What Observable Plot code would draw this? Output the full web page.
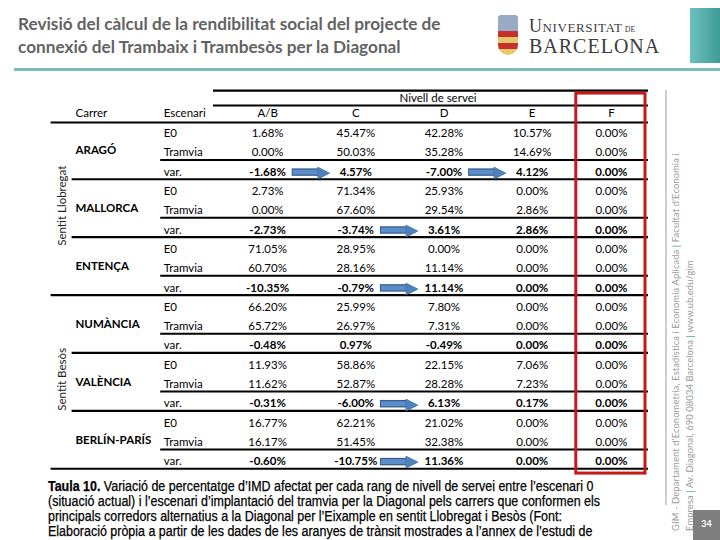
<!DOCTYPE html>
<html><head><meta charset="utf-8">
<script src="https://cdn.jsdelivr.net/npm/d3@7"></script>
<script src="https://cdn.jsdelivr.net/npm/@observablehq/plot@0.6"></script>
<style>
html,body{margin:0;padding:0;background:#fff;}
body{width:720px;height:540px;overflow:hidden;position:relative;font-family:Lato,sans-serif;}
#header{position:relative;height:80px;}
#title{position:absolute;left:18px;top:12px;font-family:Lato,sans-serif;font-weight:700;font-size:17.2px;line-height:23px;color:#636363;white-space:nowrap;}
#rule{position:absolute;left:14px;right:0;top:68px;height:3px;background:#7dbdbb;}
#crest{position:absolute;left:498px;top:15px;width:20px;height:40px;border-radius:3px 3px 10px 10px;
  background:linear-gradient(#9aa9c4 0 40%, #c8302c 40% 55%, #e8c86a 55% 70%, #c8302c 70% 85%, #e8c86a 85%);}
#ub1{position:absolute;left:529px;top:18px;font-family:"Liberation Serif",serif;font-size:18px;line-height:17px;color:#3c3c3c;font-variant:small-caps;letter-spacing:0.6px;}
#ub1 small{font-size:8px;letter-spacing:0;}
#ub2{position:absolute;left:529px;top:37px;font-family:"Liberation Serif",serif;font-size:20px;line-height:19px;color:#3c3c3c;letter-spacing:1px;}
#bldg{position:absolute;left:690px;top:8px;width:30px;height:55px;background:linear-gradient(90deg,#6cc0bb,#3f9c98);}
#chart{position:relative;height:397px;}
#caption{font-family:"Liberation Sans",Arial,sans-serif;font-size:14px;line-height:15px;color:#000;margin-left:48px;padding-top:2px;white-space:nowrap;
  transform:scaleX(0.89);transform-origin:0 0;-webkit-text-stroke:0.25px #000;}
#side{position:absolute;left:669px;top:531px;width:440px;height:30px;transform-origin:0 0;transform:rotate(-90deg);
  font-family:Lato,sans-serif;font-size:9.4px;line-height:13.5px;letter-spacing:0.1px;color:#9a9a9a;white-space:nowrap;}
#side b{color:#4bacc6;font-weight:normal;}
#vline{position:absolute;left:665px;top:90px;width:2px;height:415px;background:#cfcfcf;}
#page{position:absolute;left:693px;top:510px;width:27px;height:30px;background:#7f7f7f;color:#fff;font-family:Lato,sans-serif;font-weight:700;font-size:9px;text-align:center;line-height:28px;}
</style></head>
<body>
<div id="header">
  <div id="title">Revisió del càlcul de la rendibilitat social del projecte de<br>connexió del Trambaix i Trambesòs per la Diagonal</div>
  <div id="crest"></div>
  <div id="ub1">Universitat<small> DE</small></div>
  <div id="ub2">BARCELONA</div>
  <div id="bldg"></div>
  <div id="rule"></div>
</div>
<div id="chart"></div>
<div id="caption"><b>Taula 10.</b> Variació de percentatge d’IMD afectat per cada rang de nivell de servei entre l’escenari 0<br>(situació actual) i l’escenari d’implantació del tramvia per la Diagonal pels carrers que conformen els<br>principals corredors alternatius a la Diagonal per l’Eixample en sentit Llobregat i Besòs (Font:<br>Elaboració pròpia a partir de les dades de les aranyes de trànsit mostrades a l’annex de l’estudi de<br>trànsit).</div>
<div id="vline"></div>
<div id="side">GIM - Departament d’Econometria, Estadística i Economia Aplicada <b>|</b> Facultat d’Economia i<br>Empresa <b>|</b> Av. Diagonal, 690 08034 Barcelona <b>|</b> www.ub.edu/gim</div>
<div id="page">34</div>
<script>
// ---------- data ----------
const streets = ["ARAGÓ","MALLORCA","ENTENÇA","NUMÀNCIA","VALÈNCIA","BERLÍN-PARÍS"];
const scenarios = ["E0","Tramvia","var."];
const levels = ["A/B","C","D","E","F"];
const textColumns = ["Carrer","Escenari"];
const groupLabel = "Nivell de servei";
const e0Values = [
  [1.68,45.47,42.28,10.57,0.00],
  [2.73,71.34,25.93,0.00,0.00],
  [71.05,28.95,0.00,0.00,0.00],
  [66.20,25.99,7.80,0.00,0.00],
  [11.93,58.86,22.15,7.06,0.00],
  [16.77,62.21,21.02,0.00,0.00]];
const tramviaValues = [
  [0.00,50.03,35.28,14.69,0.00],
  [0.00,67.60,29.54,2.86,0.00],
  [60.70,28.16,11.14,0.00,0.00],
  [65.72,26.97,7.31,0.00,0.00],
  [11.62,52.87,28.28,7.23,0.00],
  [16.17,51.45,32.38,0.00,0.00]];
const varValues = [
  [-1.68,4.57,-7.00,4.12,0.00],
  [-2.73,-3.74,3.61,2.86,0.00],
  [-10.35,-0.79,11.14,0.00,0.00],
  [-0.48,0.97,-0.49,0.00,0.00],
  [-0.31,-6.00,6.13,0.17,0.00],
  [-0.60,-10.75,11.36,0.00,0.00]];
const sideLabels = ["Sentit Llobregat","Sentit Besòs"];
const sideStreets = [["ARAGÓ","MALLORCA","ENTENÇA"],["NUMÀNCIA","VALÈNCIA","BERLÍN-PARÍS"]];
const arrowStreets = ["ARAGÓ","ARAGÓ","MALLORCA","ENTENÇA","VALÈNCIA","BERLÍN-PARÍS"];
const arrowFrom = ["A/B","D","C","C","C","C"];
const arrowTo = ["C","E","D","D","D","D"];
const highlightLevel = "F";

// ---------- layout (styles / sizes) ----------
const W = 720, H = 397;
const XR = [46.6, 664];
const step = (XR[1] - XR[0]) / (textColumns.length + levels.length);
const lead = 28.4;              // left indent of text columns
const fs = 11.5;
const hlShift = -9;             // nudge of the highlighted column's text
const L = {topLine: -2.22, groupText: -1.8, groupLine: -1.45, headText: -1.04, headLine: -0.57, below: 0.37,
           boxTop: -2.07, boxBottomPad: 0.62};

// ---------- derived tables ----------
const allValues = [e0Values, tramviaValues, varValues];
const rowOf = (g, s) => g * 3 + s;
const cells = [];
streets.forEach((st, g) => scenarios.forEach((sc, s) => levels.forEach((lv, k) =>
  cells.push({street: st, scenario: sc, level: lv, value: allValues[s][g][k], row: rowOf(g, s)}))));
const scenRows = [];
streets.forEach((st, g) => scenarios.forEach((sc, s) => scenRows.push({label: sc, row: rowOf(g, s)})));
const streetRows = streets.map((st, g) => ({label: st, row: rowOf(g, 1)}));
const headers = [...textColumns, ...levels].map(c => ({col: c}));
const lastRow = rowOf(streets.length - 1, 2);
const sides = sideLabels.map((lab, i) => ({label: lab,
  row: d3.mean(sideStreets[i].flatMap(st => scenarios.map((_, s) => rowOf(streets.indexOf(st), s))))}));
const innerLines = streets.map((st, g) => ({y: rowOf(g, 1) + L.below}));
const groupEnds = streets.map((st, g) => ({y: rowOf(g, 2) + L.below,
  full: sideStreets.some(a => a[a.length - 1] === st)}));
const arrows = arrowStreets.map((st, i) => ({from: arrowFrom[i], to: arrowTo[i], row: rowOf(streets.indexOf(st), 2)}));
const fmt = v => v.toFixed(2) + "%";
const isHL = d => d.level === highlightLevel;

const black = "#000";
const lastLevel = () => levels[levels.length - 1];
const valueMarks = (subset, weight, dx) => Plot.text(subset, {x: "level", y: "row", text: d => fmt(d.value), fontSize: fs, fontWeight: weight, dx, fill: black});
const chart = Plot.plot({
  width: W, height: H,
  marginTop: 4.75, marginBottom: 6.25, marginLeft: 0, marginRight: 0,
  style: {fontFamily: "Lato, sans-serif", fontSize: fs + "px", background: "#fff"},
  x: {type: "band", domain: [...textColumns, ...levels], range: XR, padding: 0, round: false, axis: null},
  y: {domain: [-2.5, 17.5], reverse: true, axis: null},
  marks: [
    // rules
    Plot.ruleY([{y: L.topLine}, {y: L.groupLine}], {y: "y", x1: () => levels[0], x2: lastLevel, stroke: black, strokeWidth: 2.2, insetRight: 16, insetLeft: -10}),
    Plot.ruleY([{y: L.headLine}], {y: "y", x1: () => textColumns[0], x2: lastLevel, stroke: black, strokeWidth: 2.2, insetLeft: 4, insetRight: 16}),
    Plot.ruleY(innerLines, {y: "y", x1: () => textColumns[1], x2: lastLevel, stroke: black, strokeWidth: 2, insetLeft: lead - 3, insetRight: 16}),
    Plot.ruleY(groupEnds.filter(d => d.full), {y: "y", x1: () => textColumns[0], x2: lastLevel, stroke: black, strokeWidth: 2.2, insetLeft: 4, insetRight: 16}),
    Plot.ruleY(groupEnds.filter(d => !d.full), {y: "y", x1: () => textColumns[0], x2: lastLevel, stroke: black, strokeWidth: 2.2, insetLeft: 25, insetRight: 16}),
    // highlight box
    Plot.barY([highlightLevel], {x: d => d, y1: () => L.boxTop, y2: () => lastRow + L.boxBottomPad, fill: "none", stroke: "#c41a1a", strokeWidth: 3, insetLeft: 0, insetRight: 19}),
    // headers
    Plot.text(headers.filter(d => textColumns.includes(d.col)), {x: "col", y: () => L.headText, text: "col", textAnchor: "start", dx: lead - step / 2, fontSize: fs, fill: black}),
    Plot.text(headers.filter(d => levels.includes(d.col) && d.col !== highlightLevel), {x: "col", y: () => L.headText, text: "col", fontSize: fs, fill: black}),
    Plot.text(headers.filter(d => d.col === highlightLevel), {x: "col", y: () => L.headText, text: "col", dx: hlShift, fontSize: fs, fill: black}),
    Plot.text([groupLabel], {x: () => levels[Math.floor(levels.length / 2)], y: () => L.groupText, text: d => d, dx: -6, fontSize: fs, fill: black}),
    // side labels
    Plot.text(sides, {x: () => textColumns[0], y: "row", text: "label", rotate: -90, dx: -28.7, dy: -5, fontSize: fs, fill: "#222"}),
    // street names
    Plot.text(streetRows, {x: () => textColumns[0], y: "row", text: "label", textAnchor: "start", dx: lead - step / 2, dy: -2, fontSize: fs, fontWeight: "bold", fill: black}),
    // scenarios
    Plot.text(scenRows, {x: () => textColumns[1], y: "row", text: "label", textAnchor: "start", dx: lead - step / 2, fontSize: fs, fill: black}),
    // values
    valueMarks(cells.filter(d => d.scenario !== "var." && !isHL(d)), "normal", 0),
    valueMarks(cells.filter(d => d.scenario !== "var." && isHL(d)), "normal", hlShift),
    valueMarks(cells.filter(d => d.scenario === "var." && !isHL(d)), "bold", 0),
    valueMarks(cells.filter(d => d.scenario === "var." && isHL(d)), "bold", hlShift),
    // arrows
    Plot.arrow(arrows, {x1: "from", x2: "to", y1: "row", y2: "row", headLength: 0, insetStart: step / 2 - 20, insetEnd: step / 2 - 8, stroke: "#385d8a", strokeWidth: 7.5, strokeLinecap: "butt"}),
    Plot.arrow(arrows, {x1: "from", x2: "to", y1: "row", y2: "row", headLength: 0, insetStart: step / 2 - 19, insetEnd: step / 2 - 8, stroke: "#5b8ccc", strokeWidth: 5, strokeLinecap: "butt"}),
    Plot.text(arrows, {x: "to", y: "row", text: () => "▶", textAnchor: "start", dx: 6 - step / 2, fontFamily: "DejaVu Sans", fontSize: 15, fill: "#4f81bd", stroke: "#385d8a", strokeWidth: 0.8})
  ]
});
document.getElementById("chart").appendChild(chart);
</script>
</body></html>
